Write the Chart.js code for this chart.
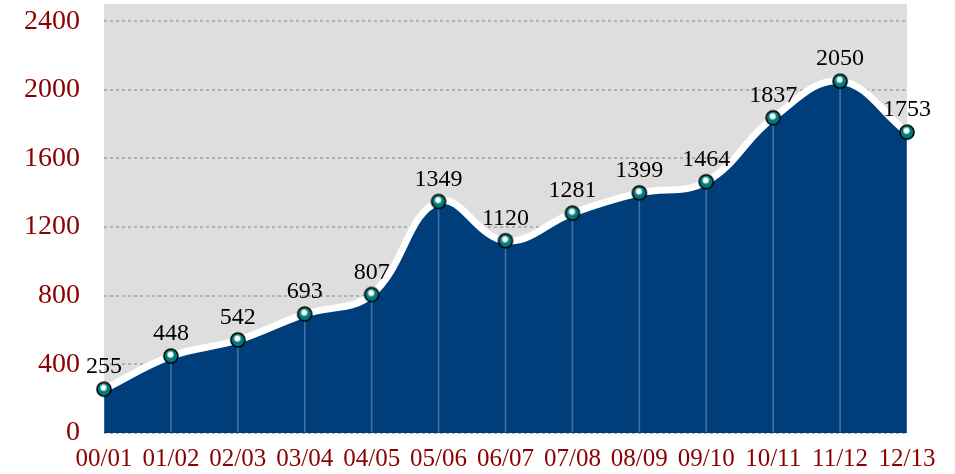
<!DOCTYPE html>
<html>
<head>
<meta charset="utf-8">
<script src="https://cdn.jsdelivr.net/npm/chart.js@4/dist/chart.umd.min.js"></script>
<style>
html,body{margin:0;padding:0;background:#fff;}
#wrap{width:955px;height:474px;}
</style>
</head>
<body>
<div id="wrap"><canvas id="c" width="955" height="474"></canvas></div>
<script>
const categories = ['00/01','01/02','02/03','03/04','04/05','05/06','06/07','07/08','08/09','09/10','10/11','11/12','12/13'];
const values = [255, 448, 542, 693, 807, 1349, 1120, 1281, 1399, 1464, 1837, 2050, 1753];
const yTicks = [0, 400, 800, 1200, 1600, 2000, 2400];
const yMax = 2500;

const SERIF = '"Liberation Serif", "Times New Roman", serif';

// point image
function makePoint(){
  const s = 18, c = document.createElement('canvas');
  c.width = s; c.height = s;
  const g = c.getContext('2d');
  const cx = s/2, cy = s/2, r = 7;
  g.beginPath(); g.arc(cx, cy, r, 0, Math.PI*2);
  g.fillStyle = '#007b7b'; g.fill();
  const grad = g.createRadialGradient(cx-0.5, cy-1.5, 0.3, cx-0.5, cy-1.5, 4);
  grad.addColorStop(0, 'rgba(255,255,255,1)');
  grad.addColorStop(0.55, 'rgba(255,255,255,0.95)');
  grad.addColorStop(1, 'rgba(255,255,255,0)');
  g.beginPath(); g.arc(cx, cy, r, 0, Math.PI*2);
  g.fillStyle = grad; g.fill();
  g.beginPath(); g.arc(cx, cy, r, 0, Math.PI*2);
  g.lineWidth = 1.6; g.strokeStyle = '#000'; g.stroke();
  return c;
}
const pointImg = makePoint();

const bgPlugin = {
  id: 'bg',
  beforeDraw(chart){
    const {ctx, chartArea:a} = chart;
    ctx.save(); ctx.fillStyle = '#dedede';
    ctx.fillRect(a.left, a.top, a.right - a.left, a.bottom - a.top);
    ctx.restore();
  }
};
const labelPlugin = {
  id: 'vlabels',
  afterDatasetsDraw(chart){
    const meta = chart.getDatasetMeta(0);
    const ctx = chart.ctx;
    ctx.save();
    ctx.font = '24px ' + SERIF;
    ctx.fillStyle = '#000';
    ctx.textAlign = 'center'; ctx.textBaseline = 'alphabetic';
    meta.data.forEach((p, i) => {
      ctx.fillText(String(values[i]), p.x, p.y - 16);
    });
    ctx.restore();
  }
};

new Chart(document.getElementById('c'), {
  type: 'line',
  data: {
    labels: categories,
    datasets: [
      {
        data: values,
        fill: 'origin',
        backgroundColor: '#003d7b',
        borderColor: '#ffffff',
        borderWidth: 7,
        tension: 0.4,
        pointStyle: pointImg,
        pointRadius: 7,
        pointHoverRadius: 7
      },
      {
        type: 'bar',
        data: values,
        backgroundColor: 'rgba(110,145,190,0.6)',
        barThickness: 1,
        borderWidth: 0
      }
    ]
  },
  options: {
    responsive: false,
    animation: false,
    events: [],
    layout: { autoPadding: false, padding: { top: 4, right: 48, left: 24, bottom: 0 } },
    plugins: {
      legend: { display: false },
      tooltip: { enabled: false },
      filler: { drawTime: 'beforeDatasetsDraw' }
    },
    scales: {
      x: {
        type: 'category',
        offset: false,
        grid: { display: false, offset: false, drawTicks: false },
        border: { display: false },
        afterFit(scale){ scale.height = 41; },
        ticks: {
          color: '#8b0000',
          font: { family: SERIF, size: 25 },
          padding: 11,
          maxRotation: 0, autoSkip: false
        }
      },
      y: {
        min: 0, max: yMax,
        afterBuildTicks(scale){ scale.ticks = yTicks.map(v => ({value: v})); },
        afterFit(scale){ scale.paddingTop = 0; scale.paddingBottom = 0; },
        grid: { color: '#b0b0b0', lineWidth: 2, drawTicks: true, tickLength: 24, tickColor: 'rgba(0,0,0,0)' },
        border: { display: false, dash: [3, 3] },
        ticks: {
          color: '#8b0000',
          font: { family: SERIF, size: 28 },
          padding: 0,
          callback: (v) => String(v)
        }
      }
    }
  },
  plugins: [bgPlugin, labelPlugin]
});
</script>
</body>
</html>
